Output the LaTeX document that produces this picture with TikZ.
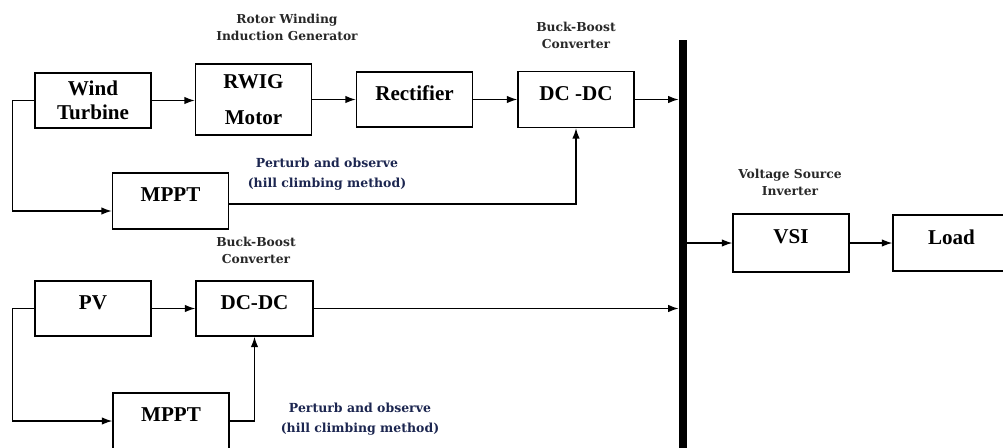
\documentclass[tikz,border=0pt]{standalone}
\usepackage{fontspec}
\setmainfont{Liberation Serif}
\newfontfamily\labelfont{DejaVu Serif}
\usetikzlibrary{arrows.meta, positioning, calc}

\definecolor{labelgray}{RGB}{40,40,40}
\definecolor{pnonavy}{RGB}{28,38,80}
\newcommand{\lift}[1]{\raisebox{3.4pt}[\height][\depth]{#1}}

\begin{document}
\begin{tikzpicture}[>={Latex[length=2.1mm,width=1.5mm]},
  block/.style={rectangle, draw, line width=0.75pt,
                minimum width=2.32cm, minimum height=1.1cm, inner sep=1pt,
                align=center, font=\fontsize{12}{13.6}\selectfont\bfseries},
  caption/.style={align=center, text=labelgray,
                  font=\labelfont\bfseries\fontsize{7}{9.6}\selectfont},
  method/.style={align=center, text=pnonavy,
                 font=\labelfont\bfseries\fontsize{7.1}{11.3}\selectfont},
  busbar/.style={rectangle, fill=black, inner sep=0pt,
                 minimum width=0.16cm, minimum height=8.3cm},
  arr/.style={->, line width=0.8pt},
]
\useasboundingbox (0,0) rectangle (20.06,8.94);

%% ── WIND BRANCH (y=6.95) ───────────────────────────────────────────
\node[block] (wt)   at (1.86, 6.93) {Wind\\Turbine};
\node[block, minimum height=1.42cm] (rwig) at (5.07, 6.95) {RWIG\\[7pt]Motor};
\node[block] (rect) at (8.29, 6.95) {\lift{Rectifier}};
\node[block, minimum height=1.12cm] (dcw) at (11.52, 6.95) {\lift{DC -DC}};
\node[block, minimum height=1.12cm] (mpw) at (3.41, 4.92) {\lift{MPPT}};

\node[caption] (rwiglbl) at (5.74, 8.39) {Rotor Winding\\Induction Generator};
\node[caption] (dcwlbl)  at (11.52, 8.24) {Buck-Boost\\Converter};
\node[method]  (pnow)    at (6.54, 5.46) {Perturb and observe\\(hill climbing method)};

%% ── PV BRANCH (y=2.77) ─────────────────────────────────────────────
\node[block] (pv)  at (1.86, 2.77) {\lift{PV}};
\node[block, minimum width=2.34cm] (dcp) at (5.09, 2.77) {\lift{DC-DC}};
\node[block, minimum height=1.12cm] (mpp) at (3.42, 0.52) {\lift{MPPT}};

\node[caption] (dcplbl) at (5.12, 3.93) {Buck-Boost\\Converter};
\node[method]  (pnop)   at (7.20, 0.56) {Perturb and observe\\(hill climbing method)};

%% ── DC BUS + OUTPUT ────────────────────────────────────────────────
\node[busbar] (bus) at (13.66, 3.99) {};
\node[block, minimum height=1.16cm] (vsi)  at (15.82, 4.08) {\lift{VSI}};
\node[block, minimum width=2.34cm, minimum height=1.12cm] (load) at (19.03, 4.08) {\lift{Load}};
\node[caption] (vsilbl) at (15.80, 5.29) {Voltage Source\\Inverter};

%% ── Wind arrows ─────────────────────────────────────────────────────
\draw[arr] (wt.east) -- (wt.east -| rwig.west);
\draw[arr] (rwig) -- (rect);
\draw[arr] (rect) -- (dcw);
\draw[arr] (dcw.east) -- (dcw.east -| bus.west);
\coordinate (mpwin) at ($(mpw.west)+(0,-0.2)$);
\draw[arr] (wt.west) -- ++(-0.44,0) |- (mpwin);
\draw[arr] ($(mpw.east)+(0,-0.06)$) -| (dcw.south);

%% ── PV arrows ───────────────────────────────────────────────────────
\draw[arr] (pv)  -- (dcp);
\draw[arr] (dcp.east) -- (dcp.east -| bus.west);
\draw[arr] (pv.west) -- ++(-0.44,0) |- (mpp.west);
\draw[arr] (mpp.east) -| (dcp.south);

%% ── Bus → inverter → load ───────────────────────────────────────────
\draw[arr] (bus.east |- vsi.west) -- (vsi.west);
\draw[arr] (vsi) -- (load);

\end{tikzpicture}
\end{document}
